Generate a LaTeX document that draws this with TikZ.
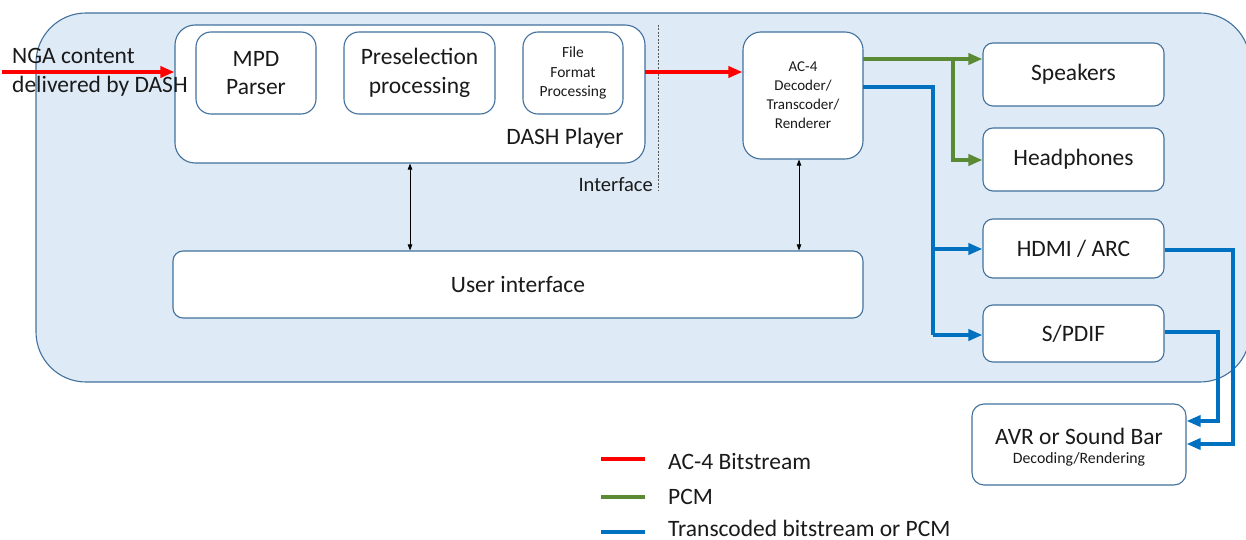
\documentclass[tikz,border=0pt]{standalone}
\usepackage{fontspec}
\setmainfont{Carlito}
\usetikzlibrary{arrows.meta}
\definecolor{bgblue}{HTML}{DEEAF6}
\definecolor{edge}{HTML}{41719C}
\definecolor{cred}{HTML}{FF0000}
\definecolor{cgreen}{HTML}{5B8A35}
\definecolor{cblue}{HTML}{0070C0}
\definecolor{txt}{HTML}{1A1A1A}
\tikzset{
  box/.style={draw=edge, line width=1.1pt, fill=white, rounded corners=#1, inner sep=0pt, text=txt, align=center},
  box/.default=12pt,
  big/.style={font=\fontsize{23.5}{28.5}\selectfont},
  small/.style={font=\fontsize{15}{19}\selectfont},
  flow/.style={line width=3.8pt, -{Triangle[length=14pt,width=11pt]}},
  plain/.style={line width=3.8pt},
  ctl/.style={line width=0.8pt, {Triangle[length=6pt,width=4.5pt]}-{Triangle[length=6pt,width=4.5pt]}},
}
\begin{document}
\begin{tikzpicture}[x=1pt,y=-1pt]
\useasboundingbox (0,0) rectangle (1246,540);
% outer region
\draw[draw=edge, line width=1.1pt, fill=bgblue, rounded corners=50pt] (36,13) rectangle (1250,382);

% DASH player
\node[box=20pt, minimum width=470pt, minimum height=138pt] (dash) at (410,94) {};
\node[big, text=txt] (dashlbl) at (565,138) {DASH Player};
\node[box=15pt, big, minimum width=120pt, minimum height=82pt] (mpd) at (256,73) {MPD\\Parser};
\node[box=15pt, font=\fontsize{15.5}{19.5}\selectfont, minimum width=100pt, minimum height=82pt] (ffp) at (573,73) {File\\Format\\Processing};
\node[box=15pt, big, minimum width=151pt, minimum height=82pt] (pre) at (419.5,73) {Preselection\\processing};

% AC-4
\node[box=18pt, small, minimum width=120pt, minimum height=127pt] (ac4) at (803,95.5) {AC-4\\Decoder/\\Transcoder/\\Renderer};

% outputs
\node[box=10pt, big, minimum width=181pt, minimum height=63pt] (spk) at (1073.5,74.5) {Speakers};
\node[box=10pt, big, minimum width=181pt, minimum height=63pt] (hp) at (1073.5,159.5) {Headphones};
\node[box=10pt, big, minimum width=181pt, minimum height=59pt] (hdmi) at (1073.5,248.5) {HDMI / ARC};
\node[box=10pt, big, minimum width=181pt, minimum height=57pt] (spdif) at (1073.5,333.5) {S/PDIF};
\node[box=12pt, minimum width=214pt, minimum height=81pt] (avr) at (1079,444.5) {};
\node[big, text=txt, inner sep=0pt] (avrt) at (1079,436) {AVR or Sound Bar};
\node[font=\fontsize{15.8}{19}\selectfont, text=txt, inner sep=0pt] (avrs) at (1079,459.5) {Decoding/Rendering};

% user interface
\node[box=10pt, big, minimum width=690pt, minimum height=67pt] (ui) at (518,284.5) {User interface};

% interface line
\coordinate (ifTop) at (658,25);
\coordinate (ifBot) at (658,191);
\draw[gray!70!black, line width=0.6pt, dash pattern=on 2pt off 1.5pt] (ifTop) -- (ifBot);
\node[font=\fontsize{20.5}{24}\selectfont, text=txt, anchor=east, inner sep=0pt] (iflbl) at (653,185) {Interface};

% input
\node[text=txt, anchor=west, align=left, inner sep=0pt, font=\fontsize{23.5}{29}\selectfont] (nga) at (12,72.5) {NGA content\\delivered by DASH};
\coordinate (src) at (2,72);
\draw[flow, cred] (src) -- (src -| dash.west);

% AC-4 bitstream
\coordinate (r1) at (645,72);
\draw[flow, cred] (r1) -- (r1 -| ac4.west);

% PCM
\coordinate (g0) at (863,59);
\coordinate (gb) at (953,59);
\draw[flow, cgreen] (g0) -- (g0 -| spk.west);
\draw[flow, cgreen] (gb) -- (953,160) -- (hp.west |- 0,160);

% transcoded
\coordinate (b0) at (863,87);
\coordinate (bb) at (933,87);
\draw[plain, cblue, line join=miter] (b0) -- (bb) -- (933,335);
\draw[flow, cblue] (933,249) -- (hdmi.west |- 0,249);
\draw[flow, cblue] (933,335) -- (spdif.west |- 0,335);
\draw[flow, cblue, line join=miter] (hdmi.east |- 0,250) -- (1233,250) -- (1233,444) -- (avr.east |- 0,444);
\draw[flow, cblue, line join=miter] (spdif.east |- 0,332) -- (1218,332) -- (1218,421) -- (avr.east |- 0,421);

% control arrows
\draw[ctl] (dash.south -| 410,0) -- (ui.north -| 410,0);
\draw[ctl] (ac4.south -| 799,0) -- (ui.north -| 799,0);

% legend
\coordinate (l1) at (601,459);
\coordinate (l2) at (601,497);
\coordinate (l3) at (601,532);
\draw[plain, cred] (l1) -- ++(44,0);
\draw[plain, cgreen] (l2) -- ++(44,0);
\draw[plain, cblue] (l3) -- ++(44,0);
\node[big, text=txt, anchor=west, inner sep=0pt] (t1) at (668,461) {AC-4 Bitstream};
\node[big, text=txt, anchor=west, inner sep=0pt] (t2) at (668,497) {PCM};
\node[big, text=txt, anchor=west, inner sep=0pt] (t3) at (668,528) {Transcoded bitstream or PCM};
\end{tikzpicture}
\end{document}
